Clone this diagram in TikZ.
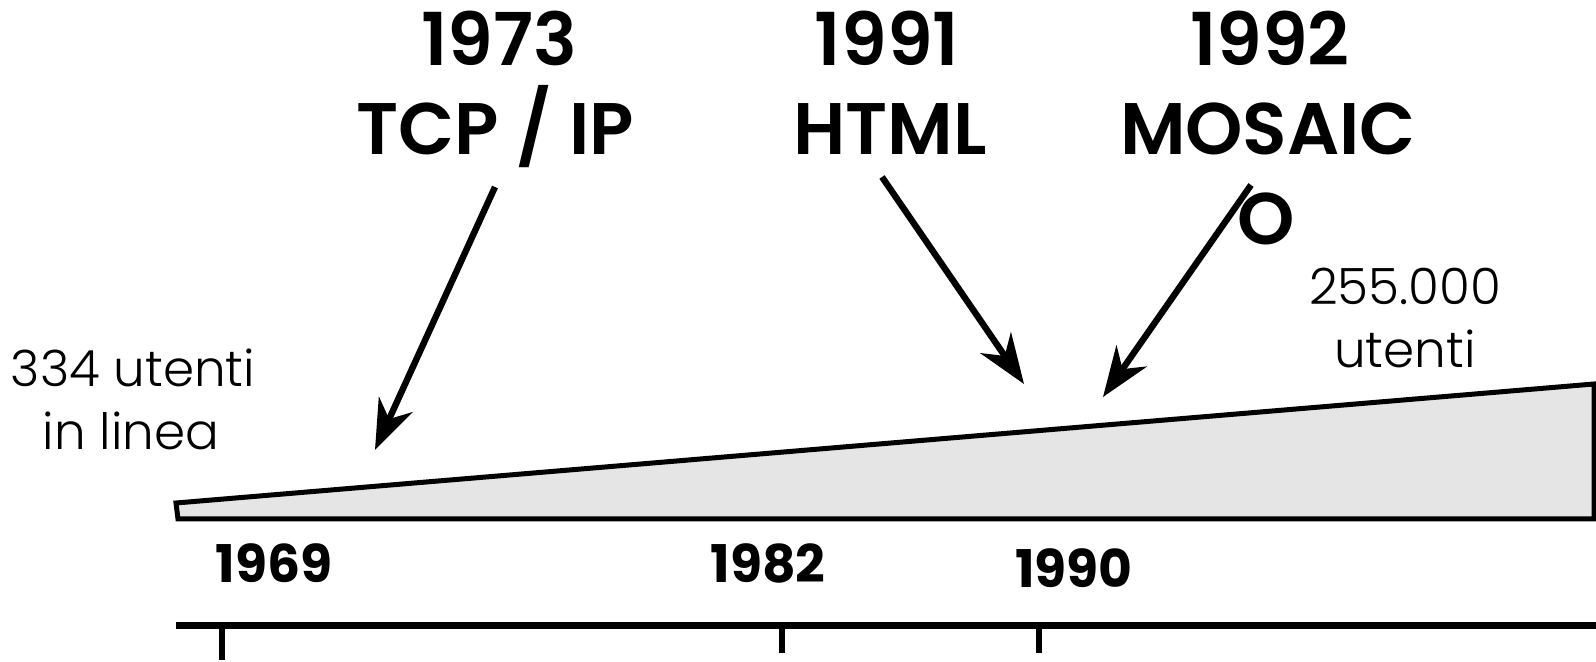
\documentclass[tikz,border=0pt]{standalone}
\usepackage{fontspec}
\setmainfont{Poppins}
\newfontfamily\titlefont{Poppins SemiBold}
\newfontfamily\yearfont{Poppins Bold}
\newfontfamily\lightfont{Poppins Light}
\usetikzlibrary{arrows.meta}
\definecolor{wedgegray}{HTML}{E5E5E5}

\begin{document}
\begin{tikzpicture}[x=0.5pt,y=-0.5pt,
  title/.style={font=\titlefont\fontsize{36.5}{40}\selectfont, inner sep=0, anchor=base},
  yearlabel/.style={font=\yearfont\fontsize{26}{30}\selectfont, inner sep=0, anchor=base},
  count/.style={font=\lightfont\fontsize{25}{28}\selectfont, inner sep=0, anchor=base},
  pointer/.style={line width=3.2pt, -{Stealth[length=25pt, width=18.5pt, inset=8pt]}},
  tick/.style={line width=3pt}
]
\useasboundingbox (0,0) rectangle (1596,662);

% growth wedge
\draw[line width=2.5pt, fill=wedgegray, line join=miter]
  (176,503) -- (1594,384) -- (1594,519) -- (178,519) -- cycle;

% milestone labels
\node[title] (y1973) at (499,66) {1973};
\node[title] (tcp)   at (495,155) {TCP / IP};
\node[title] (y1991) at (887,66) {1991};
\node[title] (html)  at (890,155) {HTML};
\node[title] (y1992) at (1270,66) {1992};
\node[title] (mosaic) at (1268,155) {MOSAIC};
\node[title] (o) at (1266,245) {O};

% user counts
\node[count] (c1a) at (133,387) {334 utenti};
\node[count] (c1b) at (131,450) {in linea};
\node[count] (c2a) at (1405,305) {255.000};
\node[count] (c2b) at (1405,368) {utenti};

% arrow end points on the wedge
\coordinate (tcpS) at (495,187);
\coordinate (tcpE) at (375,450);
\coordinate (htmlS) at (882,177);
\coordinate (htmlE) at (1024,384);
\coordinate (mosS) at (1251,185);
\coordinate (mosE) at (1103,397);
\draw[pointer] (tcpS) -- (tcpE);
\draw[pointer] (htmlS) -- (htmlE);
\draw[pointer] (mosS) -- (mosE);

% year labels
\node[yearlabel] (l1969) at (274,582) {1969};
\node[yearlabel] (l1982) at (768,582) {1982};
\node[yearlabel] (l1990) at (1074,587) {1990};

% time axis
\coordinate (axL) at (176,625);
\coordinate (axR) at (1596,625);
\draw[line width=3.5pt] (axL) -- (axR);
\draw[tick] (222,627) -- (222,660);
\draw[tick] (782,627) -- (782,653);
\draw[tick] (1039,627) -- (1039,653);
\end{tikzpicture}
\end{document}
